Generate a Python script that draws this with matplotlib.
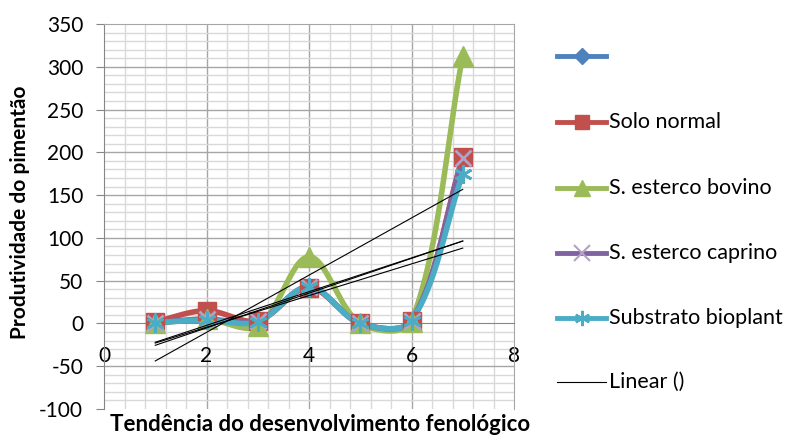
import numpy as np
import matplotlib
matplotlib.use("Agg")
import matplotlib.pyplot as plt
from matplotlib.lines import Line2D

plt.rcParams['font.family'] = ['Lato', 'DejaVu Sans']

x = [1, 2, 3, 4, 5, 6, 7]
solo_normal = [2, 15, 3, 42, 0, 3, 195]
esterco_bovino = [0, 5, -3, 78, 0, 2, 313]
esterco_caprino = [1, 5, 3, 43, 0, 3, 193]
substrato_bioplant = [1, 4, 2, 43, 0, 3, 175]

labels = ["", "Solo normal", "S. esterco bovino", "S. esterco caprino", "Substrato bioplant", "Linear ()"]
colors = ["#4F81BD", "#C0504D", "#9BBB59", "#8064A2", "#4BACC6"]
xticks = [0, 2, 4, 6, 8]
yticks = [-100, -50, 0, 50, 100, 150, 200, 250, 300, 350]

fig = plt.figure(figsize=(7.89, 4.36), dpi=100)
ax = fig.add_axes([104 / 789, 1 - 409 / 436, 410 / 789, 385 / 436])
ax.set_xlim(0, 8)
ax.set_ylim(-100, 350)


def smooth(xs, ys, n=50):
    # Excel-like smoothing: Bezier with distance-weighted tangents in screen space
    P = ax.transData.transform(np.column_stack([xs, ys]).astype(float))
    m = len(P)
    cin = [None] * m
    cout = [None] * m
    f = 1.0 / 3.0
    for i in range(m):
        pp = P[i - 1] if i > 0 else P[i]
        pn = P[i + 1] if i < m - 1 else P[i]
        d0 = np.linalg.norm(P[i] - pp)
        d1 = np.linalg.norm(pn - P[i])
        tot = d0 + d1 if d0 + d1 > 0 else 1.0
        tan = pn - pp
        cin[i] = P[i] - tan * f * d0 / tot
        cout[i] = P[i] + tan * f * d1 / tot
    out = []
    t = np.linspace(0, 1, n)[:, None]
    for i in range(m - 1):
        p1, c1, c2, p2 = P[i], cout[i], cin[i + 1], P[i + 1]
        seg = ((1 - t) ** 3) * p1 + 3 * ((1 - t) ** 2) * t * c1 + 3 * (1 - t) * t ** 2 * c2 + t ** 3 * p2
        if i > 0:
            seg = seg[1:]
        out.append(seg)
    out = ax.transData.inverted().transform(np.vstack(out))
    return out[:, 0], out[:, 1]


# grid
for gx in np.arange(0.4, 8.0, 0.4):
    major = abs(gx / 2 - round(gx / 2)) < 1e-6
    ax.axvline(gx, color="#A6A6A6" if major else "#D9D9D9", lw=1.0, zorder=0)
for gy in range(-90, 350, 10):
    major = gy % 50 == 0
    if gy == 0:
        continue
    ax.axhline(gy, color="#A6A6A6" if major else "#D9D9D9", lw=1.0, zorder=0)

series = [solo_normal, esterco_bovino, esterco_caprino, substrato_bioplant]
markers = ["s", "^", "x", "*"]
msizes = [13, 14, 12, 13]

for ys, c, mk, ms in zip(series, colors[1:], markers, msizes):
    sx, sy = smooth(x, ys)
    ax.plot(sx, sy, color=c, lw=4, zorder=3, solid_capstyle="round")
    if mk == "*":
        ax.plot(x, ys, linestyle="none", marker=(6, 2, 0), markersize=ms, color="#4BACC6",
                markeredgewidth=2, zorder=4)
    elif mk == "x":
        ax.plot(x, ys, linestyle="none", marker="x", markersize=ms, color="#B3A2C7",
                markeredgewidth=2, zorder=4)
    else:
        ax.plot(x, ys, linestyle="none", marker=mk, markersize=ms, color=c,
                markeredgecolor=c, zorder=4)

# linear trendlines
for ys in series:
    k, b = np.polyfit(x, ys, 1)
    xx = np.array([x[0], x[-1]])
    ax.plot(xx, k * xx + b, color="black", lw=0.8, zorder=5)

# axes styling
ax.spines["bottom"].set_position(("data", 0))
ax.spines["bottom"].set_color("#868686")
ax.spines["left"].set_color("#868686")
ax.spines["right"].set_color("#A6A6A6")
ax.spines["top"].set_color("#A6A6A6")
ax.set_xticks(xticks)
ax.set_yticks(yticks)
ax.tick_params(axis="x", length=0, pad=16, labelsize=15)
ax.tick_params(axis="y", length=5.5, direction="out", color="#868686", pad=9.5, labelsize=15)
ax.set_yticklabels([str(v) for v in yticks])

ax.set_ylabel("Produtividade do pimentão", fontsize=15, fontweight="bold")
ax.yaxis.set_label_coords(-0.18, 0.51)
fig.text(320 / 789, 1.5 / 436, "Tendência do desenvolvimento fenológico",
         ha="center", va="bottom", fontsize=16, fontweight="bold")

# legend
handles = [
    Line2D([], [], color=colors[0], lw=3.5, marker="D", markersize=8),
    Line2D([], [], color=colors[1], lw=3.5, marker="s", markersize=10),
    Line2D([], [], color=colors[2], lw=3.5, marker="^", markersize=11),
    Line2D([], [], color=colors[3], lw=3.5, marker="x", markersize=11, markeredgecolor="#B3A2C7", markeredgewidth=1.5),
    Line2D([], [], color=colors[4], lw=3.5, marker=(6, 2, 0), markersize=11, markeredgecolor="#4BACC6", markeredgewidth=1.5),
    Line2D([], [], color="black", lw=0.8),
]
ypos = [56, 122, 188, 253, 318, 382]
for h, lab, yp in zip(handles, labels, ypos):
    yf = 1 - yp / 436
    l = Line2D([557 / 789, 606 / 789], [yf, yf], transform=fig.transFigure,
               color=h.get_color(), lw=h.get_linewidth())
    fig.add_artist(l)
    if h.get_marker() not in (None, "None", ""):
        m = Line2D([581.5 / 789], [yf], transform=fig.transFigure, linestyle="none",
                   marker=h.get_marker(), markersize=h.get_markersize(), color=h.get_color(),
                   markeredgecolor=h.get_markeredgecolor(), markeredgewidth=h.get_markeredgewidth())
        fig.add_artist(m)
    fig.text(609 / 789, yf, lab, ha="left", va="center", fontsize=15.5)

fig.savefig("out.png", dpi=100)
